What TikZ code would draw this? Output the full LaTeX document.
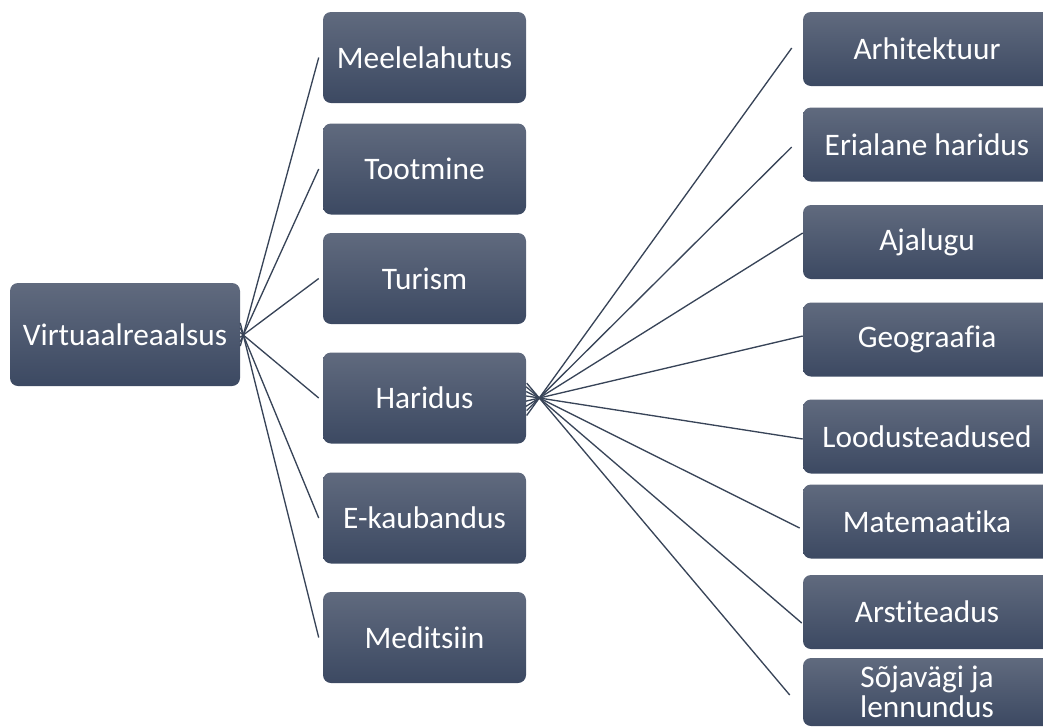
\documentclass[tikz,border=0pt]{standalone}
\usepackage{fontspec}
\setmainfont{Carlito}[Ligatures={NoCommon}]
\usetikzlibrary{calc}

\definecolor{boxtop}{RGB}{96,106,126}
\definecolor{boxbot}{RGB}{60,73,98}
\definecolor{linkcol}{RGB}{56,68,88}

\tikzset{
  vrbox/.style={rounded corners=6pt, top color=boxtop, bottom color=boxbot,
    text=white, align=center, inner sep=0pt,
    font=\fontsize{23.5}{22.5}\selectfont},
  rootbox/.style={vrbox, minimum width=172.5pt, minimum height=77.25pt},
  midbox/.style={vrbox, minimum width=152.25pt, minimum height=68.25pt},
  subbox/.style={vrbox, minimum width=186pt, minimum height=55.5pt},
  link/.style={draw=linkcol, line width=1pt}
}

\begin{document}
\begin{tikzpicture}[x=0.75pt, y=-0.75pt]
  \useasboundingbox (0,0) rectangle (1043,726);
  \clip (0,0) rectangle (1043,726);
  % --- Root ---
  \node[rootbox] (vr) at (125,334.5) {Virtuaalreaalsus};
  % --- Application areas ---
  \node[midbox] (mee)  at (424.5,57.5)  {Meelelahutus};
  \node[midbox] (toot) at (424.5,169)   {Tootmine};
  \node[midbox] (tur)  at (424.5,278.5) {Turism};
  \node[midbox] (har)  at (424.5,398)   {Haridus};
  \node[midbox] (ekau) at (424.5,518)   {E-kaubandus};
  \node[midbox] (medi) at (424.5,637.5) {Meditsiin};
  % --- Education subjects ---
  \node[subbox] (arh) at (927,49)    {Arhitektuur};
  \node[subbox] (eri) at (927,144.5) {Erialane haridus};
  \node[subbox] (aja) at (927,242)   {Ajalugu};
  \node[subbox] (geo) at (927,339.5) {Geograafia};
  \node[subbox] (loo) at (927,436.5) {Loodusteadused};
  \node[subbox] (mat) at (927,521.5) {Matemaatika};
  \node[subbox] (ars) at (927,612)   {Arstiteadus};
  \node[subbox, minimum height=51pt] (soj) at (927,692) {Sõjavägi ja\\lennundus};
  % --- Fan points ---
  \coordinate (vrfan)  at ($(vr.east)+(3,0.5)$);
  \coordinate (harfan) at ($(har.east)+(13,0)$);
  % --- Links from the root ---
  \foreach \c in {mee,toot,tur,har,ekau,medi} {
    \coordinate (e) at ($(\c.west)+(-4,0)$);
    \draw[link] (e) -- ($(e)!1.04!(vrfan)$);
  }
  % --- Links from Haridus ---
  \foreach \c/\dx/\dy in {arh/-11/-1, eri/-11/2.5, aja/0/-9, geo/0/-3.5,
                          loo/0/2.5, mat/-3/6.5, ars/-1/11, soj/-13/3} {
    \coordinate (e) at ($(\c.west)+(\dx,\dy)$);
    \draw[link] (e) -- ($(e)!1.05!(harfan)$);
  }
\end{tikzpicture}
\end{document}
